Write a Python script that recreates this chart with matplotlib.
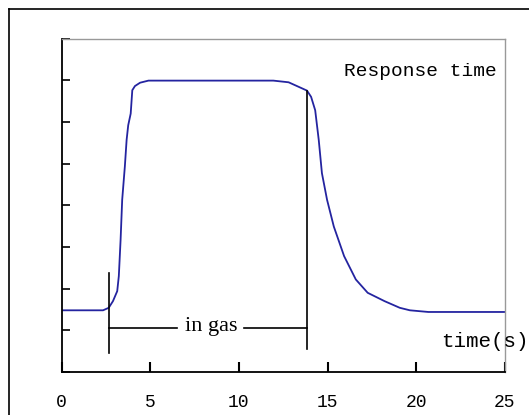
import matplotlib
matplotlib.use("Agg")
import matplotlib.pyplot as plt
from matplotlib.lines import Line2D

# sensor signal
time_s = [0, 2.34, 2.66, 2.9, 3.14, 3.23, 3.33, 3.42, 3.57, 3.67, 3.76, 3.9, 3.99,
          4.14, 4.43, 4.9, 11.94, 12.8, 13.27, 13.84, 14.07, 14.3, 14.5, 14.68,
          14.97, 15.35, 15.93, 16.59, 17.26, 18.21, 19.07, 19.64, 20.68, 25]
signal = [1.48, 1.48, 1.54, 1.70, 1.94, 2.30, 3.17, 4.13, 4.93, 5.57, 5.92, 6.20, 6.76,
          6.86, 6.94, 6.99, 6.99, 6.95, 6.86, 6.75, 6.60, 6.28, 5.57, 4.77,
          4.13, 3.49, 2.78, 2.22, 1.90, 1.70, 1.54, 1.48, 1.44, 1.44]

gas_on, gas_off = 2.66, 13.84
on_marker = (0.45, 2.38)
off_marker = (0.56, 6.75)
bracket_y = 1.06
x_ticks = [0, 5, 10, 15, 20, 25]
y_ticks = [0, 1, 2, 3, 4, 5, 6, 7, 8]

fig = plt.figure(figsize=(5.29, 4.15), dpi=100)
ax = fig.add_axes([0.1163, 0.1036, 0.8383, 0.8036])

ax.plot(time_s, signal, color="#2424a0", lw=1.3)

# gas-on / gas-off markers and bracket
ax.plot([gas_on, gas_on], on_marker, color="black", lw=1.2)
ax.plot([gas_off, gas_off], off_marker, color="black", lw=1.2)
ax.plot([gas_on, 6.5], [bracket_y, bracket_y], color="black", lw=1.2)
ax.plot([10.3, gas_off], [bracket_y, bracket_y], color="black", lw=1.2)
ax.text(8.45, bracket_y + 0.04, "in gas", family="Liberation Serif", fontsize=16,
        ha="center", va="center")

ax.text(15.9, 7.22, "Response time", family="Liberation Mono", fontsize=14,
        ha="left", va="center")
ax.text(21.4, 0.73, "time(s)", family="Liberation Mono", fontsize=15,
        ha="left", va="center", clip_on=False)

ax.set_xlim(0, 25)
ax.set_ylim(0, 8)
ax.set_xticks(x_ticks)
ax.set_xticklabels([str(t) for t in x_ticks], family="Liberation Mono", fontsize=13)
ax.set_yticks(y_ticks)
ax.set_yticklabels([])
ax.xaxis.set_tick_params(which="major", direction="in", length=7, width=1.5,
                         pad=16, color="black", bottom=True)
ax.yaxis.set_tick_params(which="major", direction="in", length=6, width=1.2,
                         color="black", left=True)

for s in ["left", "bottom"]:
    ax.spines[s].set_linewidth(1.3)
    ax.spines[s].set_color("black")
for s in ["top", "right"]:
    ax.spines[s].set_linewidth(1.0)
    ax.spines[s].set_color("#999999")

# outer frame (only top and left edges are visible in the crop)
fig.add_artist(Line2D([9 / 529, 1], [1 - 9 / 415, 1 - 9 / 415],
                      transform=fig.transFigure, color="black", lw=1.2))
fig.add_artist(Line2D([9 / 529, 9 / 529], [0, 1 - 9 / 415],
                      transform=fig.transFigure, color="black", lw=1.2))

fig.savefig("out.png", dpi=100)
